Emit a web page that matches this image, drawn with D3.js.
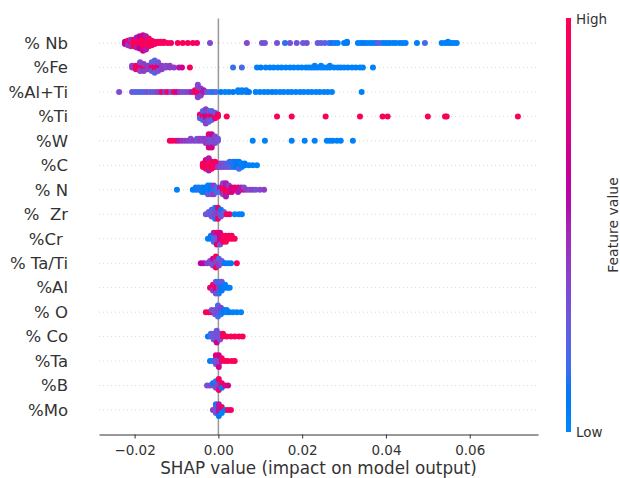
<!DOCTYPE html>
<html>
<head>
<meta charset="utf-8">
<script src="https://cdn.jsdelivr.net/npm/d3@7"></script>
<style>
  body { margin: 0; background: #fff; }
  text { font-family: "DejaVu Sans", sans-serif; fill: #333; }
</style>
</head>
<body>
<div id="chart"></div>
<script>
// SHAP summary (beeswarm) - runs are [shap value, feature value 0..1, count]

const features = ["% Nb", "%Fe", "%Al+Ti", "%Ti", "%W", "%C", "% N", "%  Zr", "%Cr ",
                  "% Ta/Ti", "%Al", "% O", "% Co", "%Ta", "%B", "%Mo"];

const nbRuns = [
  [-0.0223,0.6,3],[-0.0216,0.9,4],[-0.0216,0.4,1],[-0.0209,0.97,5],[-0.0209,0.45,2],
  [-0.0202,0.97,7],[-0.0195,0.97,8],[-0.0195,0.52,2],[-0.0188,0.97,10],[-0.0188,0.6,2],
  [-0.0180,0.97,12],[-0.0180,0.7,3],[-0.0173,0.97,11],[-0.0173,0.52,2],[-0.0166,0.97,8],
  [-0.0159,0.9,5],[-0.0152,0.97,3],[-0.0144,0.9,2],[-0.0137,0.97,2],[-0.0130,0.9,2],
  [-0.0121,0.97,1],[-0.0113,0.9,1],[-0.0097,0.97,1],[-0.0085,0.97,1],[-0.0073,0.9,1],
  [-0.0061,0.97,1],[-0.0051,0.9,1],[-0.0020,0.35,1],
  [0.0068,0.35,1],[0.0104,0.3,1],[0.0111,0.3,1],[0.0140,0.3,1],[0.0159,0.12,1],[0.0171,0.3,1],
  [0.0187,0.3,1],[0.0202,0.27,1],[0.0211,0.3,1],[0.0237,0.27,1],[0.0245,0.27,1],[0.0254,0.23,1],
  [0.0264,0.18,1],[0.0271,0.08,1],[0.0278,0.12,1],[0.0285,0.04,1],[0.0300,0.04,1],[0.0307,0.08,2],
  [0.0333,0.04,1],[0.0340,0.04,1],[0.0347,0.08,1],[0.0354,0.04,1],[0.0362,0.04,1],[0.0369,0.04,1],
  [0.0376,0.04,1],[0.0381,0.27,1],[0.0388,0.2,1],[0.0395,0.04,1],[0.0402,0.04,1],[0.0409,0.04,1],
  [0.0417,0.04,1],[0.0424,0.04,1],[0.0433,0.04,1],[0.0440,0.04,1],[0.0447,0.04,1],[0.0474,0.04,1],
  [0.0493,0.18,1],[0.0533,0.04,1],[0.0541,0.04,1],[0.0548,0.04,2],[0.0555,0.04,1],[0.0562,0.04,1],
  [0.0569,0.04,1]
];

const feRuns = [
  [-0.0206,0.4,2],[-0.0197,0.9,3],[-0.0187,0.9,4],[-0.0187,0.35,2],[-0.0178,0.97,3],
  [-0.0178,0.4,2],[-0.0168,0.4,3],[-0.0159,0.9,4],[-0.0159,0.2,2],[-0.0152,0.9,5],
  [-0.0152,0.23,3],[-0.0144,0.8,4],[-0.0144,0.3,2],[-0.0135,0.4,3],[-0.0125,0.35,2],
  [-0.0116,0.4,2],[-0.0106,0.4,1],[-0.0094,0.52,1],[-0.0087,0.7,1],[-0.0068,0.97,1],
  [0.0035,0.15,1],[0.0056,0.18,1],[0.0092,0.04,1],[0.0101,0.08,1],[0.0113,0.04,1],[0.0123,0.04,1],
  [0.0132,0.04,1],[0.0142,0.04,1],[0.0151,0.04,1],[0.0161,0.04,1],[0.0171,0.04,1],[0.0180,0.04,1],
  [0.0190,0.04,1],[0.0199,0.04,1],[0.0209,0.04,1],[0.0216,0.04,1],[0.0223,0.04,1],[0.0230,0.04,2],
  [0.0237,0.04,1],[0.0245,0.04,2],[0.0252,0.04,1],[0.0259,0.04,1],[0.0266,0.04,2],[0.0276,0.04,1],
  [0.0285,0.04,1],[0.0292,0.04,1],[0.0300,0.04,1],[0.0309,0.04,1],[0.0319,0.04,1],[0.0328,0.04,1],
  [0.0338,0.04,1],[0.0345,0.04,1],[0.0369,0.04,1]
];

const alTiRuns = [
  [-0.0237,0.35,1],[-0.0206,0.27,1],[-0.0199,0.23,1],[-0.0192,0.2,1],[-0.0185,0.23,1],
  [-0.0178,0.2,1],[-0.0171,0.3,1],[-0.0163,0.23,1],[-0.0156,0.27,1],[-0.0149,0.3,1],
  [-0.0142,0.4,1],[-0.0135,0.9,1],[-0.0128,0.4,1],[-0.0121,0.9,1],[-0.0113,0.3,1],
  [-0.0106,0.9,1],[-0.0099,0.7,1],[-0.0092,0.4,1],[-0.0085,0.3,1],[-0.0078,0.35,1],
  [-0.0070,0.4,1],[-0.0063,0.52,1],[-0.0056,0.9,2],[-0.0049,0.9,5],[-0.0049,0.35,3],
  [-0.0042,0.9,3],[-0.0042,0.4,2],[-0.0035,0.52,2],[-0.0027,0.23,1],[-0.0020,0.18,1],
  [-0.0013,0.12,1],[-0.0006,0.18,1],[0.0006,0.08,1],[0.0016,0.04,1],[0.0025,0.04,1],
  [0.0035,0.08,1],[0.0047,0.04,2],[0.0056,0.04,2],[0.0066,0.04,2],[0.0073,0.08,1],
  [0.0089,0.04,1],[0.0099,0.04,1],[0.0109,0.04,1],[0.0118,0.04,1],[0.0128,0.08,1],[0.0137,0.04,1],
  [0.0147,0.04,1],[0.0156,0.04,1],[0.0166,0.04,1],[0.0175,0.04,1],[0.0185,0.04,1],[0.0195,0.04,1],
  [0.0204,0.04,1],[0.0214,0.04,1],[0.0223,0.04,1],[0.0233,0.04,1],[0.0242,0.04,1],[0.0252,0.04,1],
  [0.0261,0.04,1],[0.0271,0.04,1],[0.0342,0.04,1]
];

const tiRuns = [
  [-0.0044,0.9,2],[-0.0044,0.23,1],[-0.0037,0.9,4],[-0.0037,0.18,2],[-0.0030,0.7,5],
  [-0.0030,0.12,2],[-0.0030,0.4,2],[-0.0023,0.9,4],[-0.0023,0.3,3],[-0.0016,0.8,4],
  [-0.0016,0.18,2],[-0.0008,0.9,3],[-0.0008,0.3,1],[-0.0001,0.9,2],
  [0.0020,0.97,1],[0.0140,0.97,1],[0.0175,0.97,1],[0.0256,0.97,1],[0.0338,0.97,1],
  [0.0392,0.97,1],[0.0404,0.97,1],[0.0500,0.97,1],[0.0541,0.97,1],[0.0545,0.97,1],
  [0.0715,0.97,1]
];

const wRuns = [
  [-0.0116,0.97,1],[-0.0109,0.97,1],[-0.0101,0.9,1],[-0.0094,0.52,1],[-0.0087,0.45,1],
  [-0.0080,0.4,1],[-0.0073,0.4,1],[-0.0066,0.35,2],[-0.0058,0.4,1],[-0.0051,0.3,2],
  [-0.0044,0.4,2],[-0.0037,0.35,2],[-0.0030,0.4,3],[-0.0023,0.35,5],[-0.0023,0.8,2],
  [-0.0016,0.3,5],[-0.0016,0.7,2],[-0.0008,0.35,4],[-0.0001,0.3,2],
  [0.0082,0.04,1],[0.0111,0.04,1],[0.0175,0.04,1],[0.0206,0.04,1],[0.0230,0.04,1],[0.0259,0.04,1],
  [0.0266,0.04,1],[0.0273,0.04,1],[0.0283,0.04,1],[0.0292,0.04,1],[0.0321,0.04,1]
];

const cRuns = [
  [-0.0037,0.97,3],[-0.0030,0.97,5],[-0.0030,0.7,1],[-0.0023,0.97,6],[-0.0023,0.52,2],
  [-0.0016,0.97,5],[-0.0008,0.9,4],[-0.0001,0.9,2],[-0.0001,0.4,1],[0.0006,0.35,3],
  [0.0013,0.3,3],[0.0020,0.27,3],[0.0027,0.23,3],[0.0027,0.12,1],[0.0035,0.23,2],[0.0035,0.12,2],
  [0.0042,0.18,2],[0.0042,0.08,2],[0.0049,0.08,4],[0.0049,0.2,1],[0.0056,0.04,3],
  [0.0063,0.08,2],[0.0073,0.04,1],[0.0082,0.04,1],[0.0092,0.04,1]
];

const nRuns = [
  [-0.0099,0.04,1],[-0.0061,0.08,1],[-0.0054,0.04,2],[-0.0047,0.12,2],[-0.0039,0.04,3],
  [-0.0032,0.08,3],[-0.0025,0.04,4],[-0.0025,0.23,1],[-0.0018,0.08,4],[-0.0018,0.3,1],
  [-0.0011,0.12,3],[-0.0011,0.4,2],[-0.0004,0.18,3],[0.0004,0.52,2],[0.0004,0.18,1],
  [0.0011,0.97,4],[0.0011,0.4,2],[0.0018,0.9,5],[0.0018,0.52,2],[0.0025,0.9,3],[0.0025,0.4,1],
  [0.0032,0.7,3],[0.0039,0.8,2],[0.0047,0.9,2],[0.0047,0.52,1],[0.0054,0.52,2],
  [0.0061,0.9,1],[0.0061,0.35,1],[0.0068,0.4,1],[0.0075,0.35,1],[0.0082,0.4,1],
  [0.0089,0.3,1],[0.0099,0.35,1],[0.0109,0.4,1]
];

const zrRuns = [
  [-0.0030,0.3,1],[-0.0023,0.27,2],[-0.0016,0.3,3],[-0.0016,0.18,1],[-0.0008,0.35,4],
  [-0.0008,0.12,2],[-0.0001,0.4,4],[-0.0001,0.9,2],[0.0006,0.3,3],[0.0006,0.08,1],
  [0.0013,0.27,2],[0.0020,0.97,1],[0.0027,0.9,1],[0.0039,0.04,1],[0.0049,0.04,1],[0.0056,0.04,1]
];

const crRuns = [
  [-0.0025,0.04,1],[-0.0018,0.08,2],[-0.0011,0.18,3],[-0.0011,0.52,1],[-0.0004,0.3,3],
  [-0.0004,0.8,2],[0.0004,0.7,4],[0.0004,0.3,1],[0.0011,0.9,3],[0.0018,0.97,3],
  [0.0025,0.97,2],[0.0032,0.97,2],[0.0039,0.97,1]
];

const taTiRuns = [
  [-0.0042,0.6,1],[-0.0035,0.55,1],[-0.0027,0.4,1],[-0.0020,0.35,2],[-0.0013,0.3,3],
  [-0.0013,0.7,1],[-0.0006,0.35,4],[-0.0006,0.9,2],[0.0001,0.4,3],[0.0001,0.18,1],
  [0.0008,0.27,2],[0.0016,0.08,1],[0.0023,0.04,1],[0.0030,0.08,1],[0.0044,0.97,1]
];

const alRuns = [
  [-0.0020,0.9,1],[-0.0013,0.9,2],[-0.0013,0.4,1],[-0.0006,0.8,3],[-0.0006,0.3,2],
  [0.0001,0.4,3],[0.0001,0.12,2],[0.0008,0.08,3],[0.0008,0.3,1],[0.0016,0.04,2],
  [0.0023,0.08,1],[0.0027,0.04,1]
];

const oRuns = [
  [-0.0030,0.97,1],[-0.0023,0.97,1],[-0.0016,0.9,1],[-0.0016,0.3,1],[-0.0008,0.3,3],
  [-0.0001,0.35,4],[-0.0001,0.18,2],[0.0006,0.12,3],[0.0006,0.4,1],[0.0013,0.08,2],
  [0.0020,0.04,2],[0.0027,0.08,1],[0.0035,0.04,1],[0.0044,0.04,1],[0.0054,0.04,1]
];

const coRuns = [
  [-0.0025,0.08,1],[-0.0018,0.18,2],[-0.0011,0.27,3],[-0.0004,0.3,4],[-0.0004,0.7,1],
  [0.0004,0.3,3],[0.0011,0.97,2],[0.0020,0.97,1],[0.0030,0.97,1],[0.0039,0.97,1],
  [0.0049,0.97,1],[0.0058,0.97,1]
];

const taRuns = [
  [-0.0020,0.04,1],[-0.0013,0.12,1],[-0.0006,0.3,3],[-0.0006,0.8,1],[0.0001,0.35,3],
  [0.0001,0.7,2],[0.0008,0.9,2],[0.0016,0.97,1],[0.0023,0.97,1],[0.0032,0.97,1],[0.0039,0.97,1]
];

const bRuns = [
  [-0.0027,0.3,1],[-0.0020,0.35,1],[-0.0013,0.27,1],[-0.0013,0.08,1],[-0.0006,0.35,3],
  [-0.0006,0.12,1],[0.0001,0.4,4],[0.0001,0.9,2],[0.0008,0.9,2],[0.0008,0.08,1],
  [0.0016,0.8,1],[0.0023,0.7,1]
];

const moRuns = [
  [-0.0013,0.4,1],[-0.0006,0.3,3],[-0.0006,0.12,1],[0.0001,0.52,4],[0.0001,0.08,1],
  [0.0008,0.9,2],[0.0008,0.04,1],[0.0016,0.08,1],[0.0023,0.97,1],[0.0030,0.9,1]
];

const allRuns = [nbRuns, feRuns, alTiRuns, tiRuns, wRuns, cRuns, nRuns, zrRuns, crRuns,
                 taTiRuns, alRuns, oRuns, coRuns, taRuns, bRuns, moRuns];

const xTicks = [-0.02, 0, 0.02, 0.04, 0.06];
const xTitle = "SHAP value (impact on model output)";
const cbarLabels = ["High", "Low"];
const cbarTitle = "Feature value";

const width = 620, height = 478;
const svg = d3.select("#chart").append("svg")
  .attr("width", width).attr("height", height);

const x = d3.scaleLinear().domain([-0.0285, 0.0763]).range([99, 538]);
const y = d3.scaleLinear().domain([-1, features.length]).range([18.5, 434.5]);

// blue -> purple -> red, walked in LCh like shap's red_blue map
const color = t => d3.hcl(266.9 + t * 113.4, 70 + 20 * t, 54 - 12 * Math.sin(Math.PI * t)).formatHex();

// dotted row guides
svg.append("g").selectAll("line").data(features).join("line")
  .attr("x1", x.range()[0]).attr("x2", x.range()[1])
  .attr("y1", (d, i) => y(i)).attr("y2", (d, i) => y(i))
  .attr("stroke", "#cccccc").attr("stroke-width", 0.8)
  .attr("stroke-dasharray", "1,3");

// zero line
svg.append("line")
  .attr("x1", x(0)).attr("x2", x(0))
  .attr("y1", y.range()[0]).attr("y2", y.range()[1])
  .attr("stroke", "#999").attr("stroke-width", 1.5);

// beeswarm: stack points that share a value, alternating up / down, scaled per row
const rowHeight = 0.4;
let points = [];
allRuns.forEach((runs, row) => {
  let pts = [];
  runs.forEach(r => { for (let k = 0; k < r[2]; k++) pts.push({ s: r[0], c: r[1], row }); });
  let groups = d3.group(pts, p => p.s);
  let maxY = 0;
  groups.forEach(g => {
    g.forEach((p, layer) => {
      p.off = Math.ceil(layer / 2) * ((layer % 2) * 2 - 1);
      maxY = Math.max(maxY, p.off + 1);
    });
  });
  pts.forEach(p => { p.off *= 0.9 * (rowHeight / maxY); });
  points = points.concat(pts);
});

svg.append("g").selectAll("circle").data(points).join("circle")
  .attr("cx", d => x(d.s))
  .attr("cy", d => y(d.row - d.off))
  .attr("r", 3)
  .attr("fill", d => color(d.c));

// feature labels
svg.append("g").selectAll("text").data(features).join("text")
  .attr("x", 68).attr("y", (d, i) => y(i)).attr("dy", "0.35em")
  .attr("text-anchor", "end")
  .style("font-size", "16.5px")
  .style("white-space", "pre")
  .text(d => d);

// x axis
const xAxis = svg.append("g")
  .attr("transform", `translate(0,${y.range()[1]})`)
  .call(d3.axisBottom(x).tickValues(xTicks).tickSize(4).tickPadding(7)
    .tickFormat(d => d3.format(".2f")(d).replace("-", "\u2212")).tickSizeOuter(0));
xAxis.select(".domain").attr("stroke", "#333");
xAxis.selectAll(".tick line").attr("stroke", "#333");
xAxis.selectAll(".tick text").style("font-size", "13.5px")
  .style("font-family", "DejaVu Sans").attr("fill", "#333");

svg.append("text")
  .attr("x", (x.range()[0] + x.range()[1]) / 2).attr("y", 474)
  .attr("text-anchor", "middle").style("font-size", "16.8px")
  .text(xTitle);

// colour bar
const grad = svg.append("defs").append("linearGradient")
  .attr("id", "cbar").attr("x1", 0).attr("x2", 0).attr("y1", 1).attr("y2", 0);
d3.range(0, 1.0001, 0.05).forEach(t => {
  grad.append("stop").attr("offset", t).attr("stop-color", color(t));
});
svg.append("rect")
  .attr("x", 566).attr("y", 18).attr("width", 5).attr("height", 414)
  .attr("fill", "url(#cbar)");
svg.append("text").attr("x", 576).attr("y", 24).style("font-size", "13.5px").text(cbarLabels[0]);
svg.append("text").attr("x", 576).attr("y", 437).style("font-size", "13.5px").text(cbarLabels[1]);
svg.append("text")
  .attr("transform", "translate(618,225) rotate(-90)")
  .attr("text-anchor", "middle").style("font-size", "14px")
  .text(cbarTitle);
</script>
</body>
</html>
